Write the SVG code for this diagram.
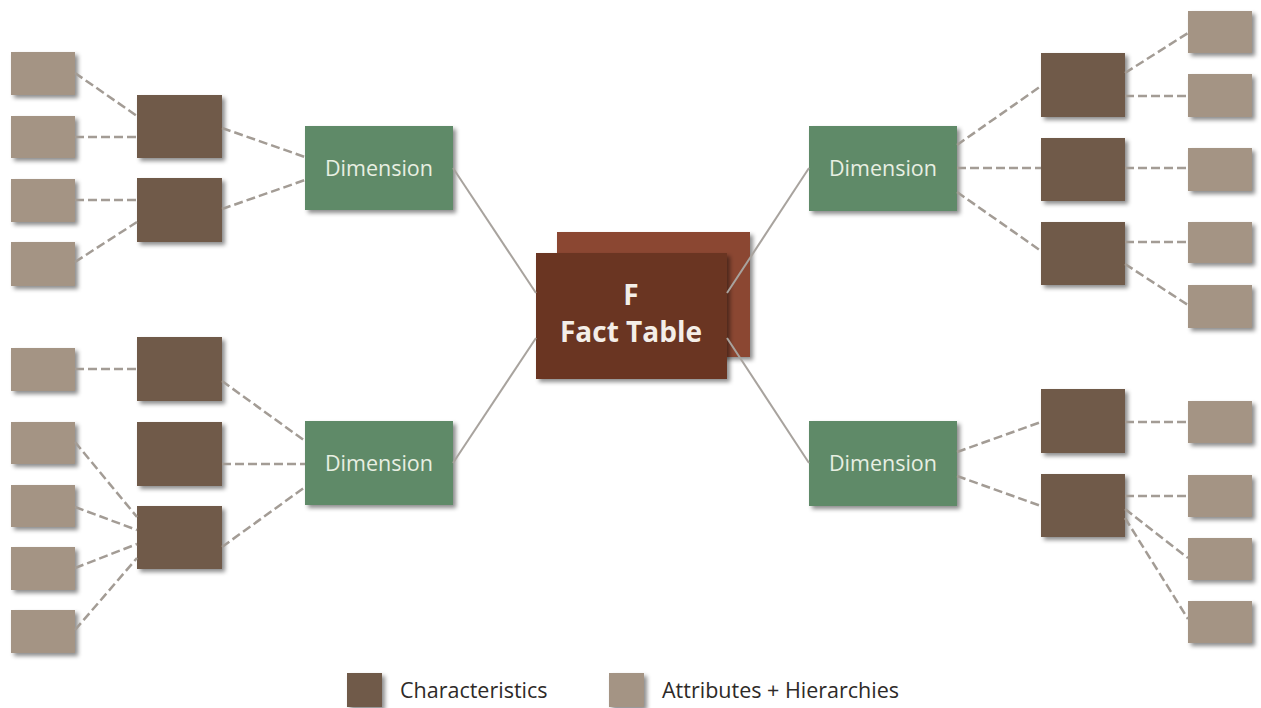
<svg xmlns="http://www.w3.org/2000/svg" width="1261" height="708" viewBox="0 0 1261 708">
<defs>
<filter id="sh" x="-20%" y="-20%" width="150%" height="150%">
<feDropShadow dx="3" dy="3" stdDeviation="2" flood-color="#000" flood-opacity="0.45"/>
</filter>
<style>
.attr{fill:#A49484;filter:url(#sh)}
.char{fill:#705A4A;filter:url(#sh)}
.dim{fill:#5F8A68;filter:url(#sh)}
.dimt{font-family:"Open Sans","Noto Sans",sans-serif;font-size:21.5px;fill:#E8EFE2;text-anchor:middle}
.fact{font-family:"Open Sans","Noto Sans",sans-serif;font-size:28px;font-weight:bold;fill:#F4EEE8;text-anchor:middle}
.dash{stroke:#A39C95;stroke-width:2.5;stroke-dasharray:9 4;fill:none}
.solid{stroke:#A8A39E;stroke-width:2;fill:none}
.leg{font-family:"Open Sans","Noto Sans",sans-serif;font-size:21.5px;fill:#2E2A28}
</style>
</defs>
<rect width="1261" height="708" fill="#FFFFFF"/>

<!-- Fact table -->
<g id="fact-table">
<rect x="557" y="232" width="193" height="125" fill="#8B4730" filter="url(#sh)"/>
<rect x="536" y="253" width="191" height="126" fill="#6A3421" filter="url(#sh)"/>
<text class="fact" x="631" y="305">F</text>
<text class="fact" x="631" y="342">Fact Table</text>
</g>

<!-- Dimensions -->
<g id="dim-tl"><rect class="dim" x="305" y="126" width="148" height="84"/><text class="dimt" x="379" y="176">Dimension</text></g>
<g id="dim-bl"><rect class="dim" x="305" y="421" width="148" height="84"/><text class="dimt" x="379" y="471">Dimension</text></g>
<g id="dim-tr"><rect class="dim" x="809" y="126" width="148" height="85"/><text class="dimt" x="883" y="176">Dimension</text></g>
<g id="dim-br"><rect class="dim" x="809" y="421" width="148" height="85"/><text class="dimt" x="883" y="471">Dimension</text></g>

<!-- Characteristics left -->
<g id="char-tl1"><rect class="char" x="137" y="95" width="85" height="63"/></g>
<g id="char-tl2"><rect class="char" x="137" y="178" width="85" height="64"/></g>
<g id="char-bl1"><rect class="char" x="137" y="337" width="85" height="64"/></g>
<g id="char-bl2"><rect class="char" x="137" y="422" width="85" height="64"/></g>
<g id="char-bl3"><rect class="char" x="137" y="506" width="85" height="63"/></g>
<!-- Characteristics right -->
<g id="char-tr1"><rect class="char" x="1041" y="53" width="84" height="64"/></g>
<g id="char-tr2"><rect class="char" x="1041" y="138" width="84" height="63"/></g>
<g id="char-tr3"><rect class="char" x="1041" y="222" width="84" height="63"/></g>
<g id="char-br1"><rect class="char" x="1041" y="389" width="84" height="64"/></g>
<g id="char-br2"><rect class="char" x="1041" y="474" width="84" height="63"/></g>

<!-- Attributes left -->
<g id="attr-l1"><rect class="attr" x="11" y="52" width="64" height="43"/></g>
<g id="attr-l2"><rect class="attr" x="11" y="116" width="64" height="42"/></g>
<g id="attr-l3"><rect class="attr" x="11" y="179" width="64" height="43"/></g>
<g id="attr-l4"><rect class="attr" x="11" y="242" width="64" height="44"/></g>
<g id="attr-l5"><rect class="attr" x="11" y="348" width="64" height="43"/></g>
<g id="attr-l6"><rect class="attr" x="11" y="422" width="64" height="42"/></g>
<g id="attr-l7"><rect class="attr" x="11" y="485" width="64" height="42"/></g>
<g id="attr-l8"><rect class="attr" x="11" y="547" width="64" height="43"/></g>
<g id="attr-l9"><rect class="attr" x="11" y="610" width="64" height="43"/></g>
<!-- Attributes right -->
<g id="attr-r1"><rect class="attr" x="1188" y="11" width="64" height="42"/></g>
<g id="attr-r2"><rect class="attr" x="1188" y="74" width="64" height="43"/></g>
<g id="attr-r3"><rect class="attr" x="1188" y="148" width="64" height="43"/></g>
<g id="attr-r4"><rect class="attr" x="1188" y="222" width="64" height="41"/></g>
<g id="attr-r5"><rect class="attr" x="1188" y="285" width="64" height="43"/></g>
<g id="attr-r6"><rect class="attr" x="1188" y="401" width="64" height="42"/></g>
<g id="attr-r7"><rect class="attr" x="1188" y="475" width="64" height="42"/></g>
<g id="attr-r8"><rect class="attr" x="1188" y="538" width="64" height="42"/></g>
<g id="attr-r9"><rect class="attr" x="1188" y="601" width="64" height="42"/></g>

<!-- Connectors -->
<g id="connectors">
<line class="solid" x1="453" y1="168" x2="536" y2="293"/>
<line class="solid" x1="453" y1="463" x2="536" y2="338"/>
<line class="solid" x1="809" y1="168" x2="727" y2="293"/>
<line class="solid" x1="809" y1="463" x2="727" y2="338"/>

<line class="dash" x1="75" y1="73" x2="137" y2="116"/>
<line class="dash" x1="75" y1="137" x2="137" y2="137"/>
<line class="dash" x1="75" y1="200" x2="137" y2="200"/>
<line class="dash" x1="75" y1="262" x2="137" y2="222"/>
<line class="dash" x1="222" y1="128" x2="305" y2="157"/>
<line class="dash" x1="222" y1="209" x2="305" y2="180"/>

<line class="dash" x1="75" y1="369" x2="137" y2="369"/>
<line class="dash" x1="222" y1="381" x2="305" y2="441"/>
<line class="dash" x1="222" y1="464" x2="305" y2="464"/>
<line class="dash" x1="222" y1="547" x2="305" y2="487"/>
<line class="dash" x1="75" y1="442" x2="137" y2="517"/>
<line class="dash" x1="75" y1="507" x2="137" y2="530"/>
<line class="dash" x1="75" y1="568" x2="137" y2="544"/>
<line class="dash" x1="75" y1="630" x2="137" y2="558"/>

<line class="dash" x1="957" y1="145" x2="1041" y2="86"/>
<line class="dash" x1="957" y1="168" x2="1041" y2="168"/>
<line class="dash" x1="957" y1="192" x2="1041" y2="251"/>
<line class="dash" x1="1125" y1="73" x2="1188" y2="33"/>
<line class="dash" x1="1125" y1="96" x2="1188" y2="96"/>
<line class="dash" x1="1125" y1="168" x2="1188" y2="168"/>
<line class="dash" x1="1125" y1="242" x2="1188" y2="242"/>
<line class="dash" x1="1125" y1="264" x2="1188" y2="305"/>

<line class="dash" x1="957" y1="452" x2="1041" y2="422"/>
<line class="dash" x1="957" y1="476" x2="1041" y2="506"/>
<line class="dash" x1="1125" y1="422" x2="1188" y2="422"/>
<line class="dash" x1="1125" y1="496" x2="1188" y2="496"/>
<line class="dash" x1="1125" y1="509" x2="1188" y2="558"/>
<line class="dash" x1="1125" y1="518" x2="1188" y2="619"/>
</g>

<!-- Legend -->
<g id="legend">
<rect class="char" x="347" y="673" width="35" height="34"/>
<text class="leg" x="400" y="698">Characteristics</text>
<rect class="attr" x="609" y="673" width="35" height="34"/>
<text class="leg" x="662" y="698">Attributes + Hierarchies</text>
</g>
</svg>
